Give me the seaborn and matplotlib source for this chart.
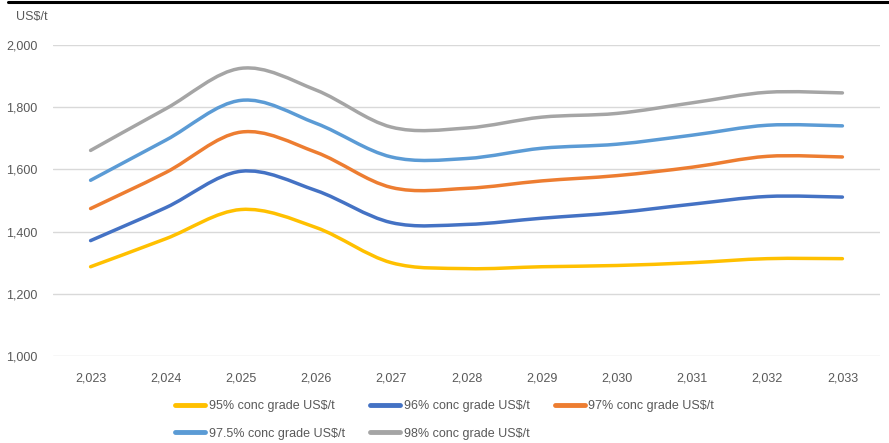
import numpy as np
import pandas as pd
import matplotlib
matplotlib.use("Agg")
import matplotlib.pyplot as plt
from matplotlib.path import Path
from matplotlib.patches import PathPatch
from matplotlib.lines import Line2D
import seaborn as sns

years = [2023, 2024, 2025, 2026, 2027, 2028, 2029, 2030, 2031, 2032, 2033]
year_labels = ["2,023", "2,024", "2,025", "2,026", "2,027", "2,028", "2,029", "2,030", "2,031", "2,032", "2,033"]
grade95 = [1287, 1377, 1471, 1413, 1300, 1281, 1287, 1291, 1300, 1313, 1313]
grade96 = [1371, 1477, 1594, 1532, 1429, 1423, 1443, 1461, 1488, 1513, 1511]
grade97 = [1474, 1590, 1720, 1655, 1542, 1539, 1563, 1580, 1607, 1642, 1640]
grade975 = [1565, 1694, 1822, 1748, 1640, 1635, 1668, 1681, 1710, 1742, 1740]
grade98 = [1661, 1795, 1925, 1855, 1736, 1733, 1768, 1780, 1814, 1848, 1846]
series_names = ["95% conc grade US$/t", "96% conc grade US$/t", "97% conc grade US$/t",
                "97.5% conc grade US$/t", "98% conc grade US$/t"]
colors = ["#FFC000", "#4472C4", "#ED7D31", "#5B9BD5", "#A5A5A5"]
y_ticks = [1000, 1200, 1400, 1600, 1800, 2000]

sns.set_theme(style="white")
plt.rcParams["font.family"] = ["Liberation Sans Narrow", "Liberation Sans", "DejaVu Sans"]

rows = []
for name, vals in zip(series_names, [grade95, grade96, grade97, grade975, grade98]):
    for i, v in enumerate(vals):
        rows.append({"idx": i, "value": v, "series": name})
df = pd.DataFrame(rows)

fig = plt.figure(figsize=(8.89, 4.43), dpi=100)
ax = fig.add_axes([53 / 889, 1 - 356 / 443, (880 - 53) / 889, (356 - 45) / 443])

sns.lineplot(data=df, x="idx", y="value", hue="series", hue_order=series_names,
             palette=colors, legend=False, ax=ax, linewidth=2.5)

# Excel-style smoothing: replace straight polylines by Bezier curves through the data points
for line, c in zip(list(ax.lines), colors):
    xy = np.asarray(line.get_xydata())
    line.set_visible(False)
    n = len(xy)
    verts = [tuple(xy[0])]
    codes = [Path.MOVETO]
    for i in range(n - 1):
        p0 = xy[i - 1] if i > 0 else xy[i]
        p1 = xy[i]
        p2 = xy[i + 1]
        p3 = xy[i + 2] if i + 2 < n else xy[i + 1]
        c1 = p1 + (p2 - p0) / 6.0
        c2 = p2 - (p3 - p1) / 6.0
        verts += [tuple(c1), tuple(c2), tuple(p2)]
        codes += [Path.CURVE4, Path.CURVE4, Path.CURVE4]
    ax.add_patch(PathPatch(Path(verts, codes), facecolor="none", edgecolor=c,
                           linewidth=2.5, capstyle="round", joinstyle="round", zorder=3))

ax.set_xlim(-0.5, len(years) - 0.5)
ax.set_ylim(1000, 2000)
ax.set_yticks(y_ticks)
ax.set_yticklabels([f"{v:,}" for v in y_ticks])
ax.set_xticks(range(len(years)))
ax.set_xticklabels(year_labels)
ax.set_xlabel("")
ax.set_ylabel("")
ax.grid(axis="y", color="#D9D9D9", linewidth=1)
ax.grid(axis="x", visible=False)
for s in ax.spines.values():
    s.set_visible(False)
ax.tick_params(axis="both", length=0, labelsize=9, colors="#595959")
ax.tick_params(axis="x", pad=12)
ax.tick_params(axis="y", pad=11)

fig.text(16 / 889, 1 - 17 / 443, "US$/t", fontsize=9, color="#595959", va="center", ha="left")

handles = [Line2D([0], [0], color=c, linewidth=3.5) for c in colors]
order = [0, 3, 1, 4, 2]
leg = fig.legend([handles[i] for i in order], [series_names[i] for i in order],
                 ncol=3, loc="upper left", bbox_to_anchor=(170 / 889, 1 - 395 / 443),
                 frameon=False, fontsize=9, handlelength=2.4, handletextpad=0.3,
                 columnspacing=2.0, labelspacing=1.25, borderaxespad=0)
for t in leg.get_texts():
    t.set_color("#595959")

fig.add_artist(Line2D([8 / 889, 1.0], [1 - 2 / 443, 1 - 2 / 443], color="black", linewidth=2.2,
                      transform=fig.transFigure))

fig.savefig("out.png", dpi=100)
